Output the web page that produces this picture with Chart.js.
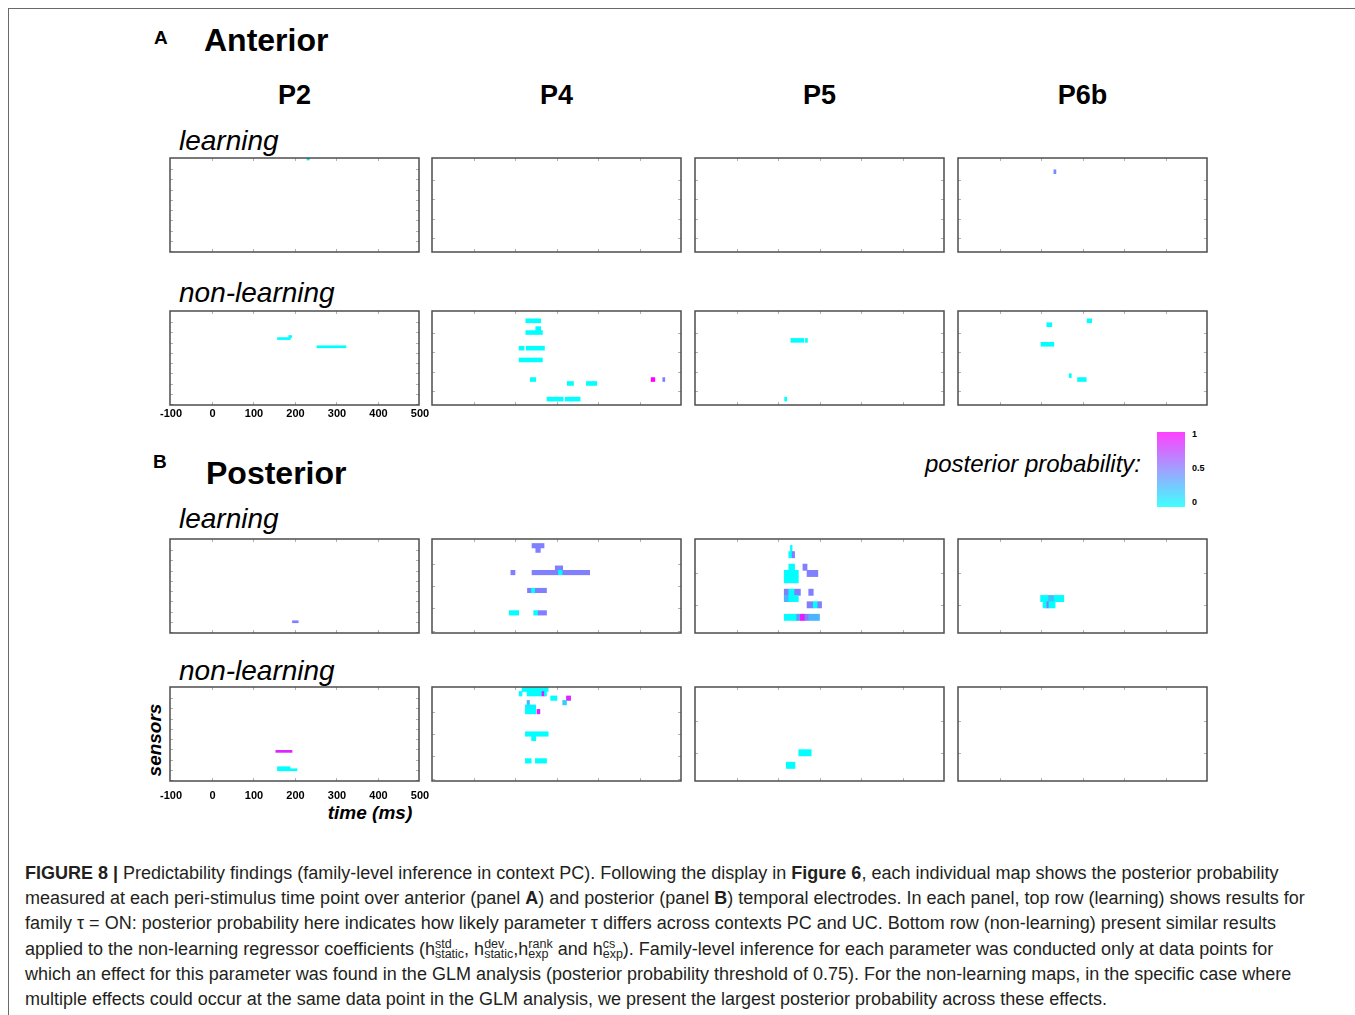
<!DOCTYPE html>
<html><head><meta charset="utf-8">
<script src="https://cdn.jsdelivr.net/npm/chart.js@4.4.1/dist/chart.umd.min.js"></script>
<style>
html,body{margin:0;padding:0;background:#fff;}
body{width:1355px;height:1015px;position:relative;overflow:hidden;font-family:"Liberation Sans",Arial,Helvetica,sans-serif;color:#000;}
.t{position:absolute;white-space:nowrap;line-height:1;}
.b{font-weight:bold;}
.i{font-style:italic;}
canvas{position:absolute;}
#cap{position:absolute;left:25px;top:861px;font-size:18px;color:#231f20;}
#cap div{height:25.2px;line-height:25.2px;white-space:nowrap;}
.hs{display:inline-block;font-size:12.5px;line-height:10.5px;vertical-align:-3.5px;}
.hs span{display:block;}
</style></head><body>
<div style="position:absolute;left:8px;top:8px;width:1400px;height:1100px;border-left:1px solid #6a6a6a;border-top:1px solid #6a6a6a;"></div>

<div class="t b" style="left:154px;top:28px;font-size:19px;">A</div>
<div class="t b" style="left:204px;top:24px;font-size:32px;">Anterior</div>
<div id="heads"></div>
<div class="t i" style="left:179px;top:127px;font-size:28px;">learning</div>
<div class="t i" style="left:179px;top:279px;font-size:28px;">non-learning</div>
<div class="t b" style="left:153px;top:452px;font-size:19px;">B</div>
<div class="t b" style="left:206px;top:457px;font-size:32px;">Posterior</div>
<div class="t i" style="left:179px;top:505px;font-size:28px;">learning</div>
<div class="t i" style="left:179px;top:657px;font-size:28px;">non-learning</div>
<div class="t i" style="right:214px;top:452px;font-size:24px;">posterior probability:</div>
<div style="position:absolute;left:1157px;top:432px;width:28px;height:75px;background:linear-gradient(to top,rgb(0,255,255),rgb(128,128,255),rgb(255,0,255));opacity:0.75;"></div>
<div class="t b" style="left:1192px;top:430px;font-size:9px;">1</div>
<div class="t b" style="left:1192px;top:464px;font-size:9px;">0.5</div>
<div class="t b" style="left:1192px;top:498px;font-size:9px;">0</div>
<div class="t b i" style="left:320px;top:803px;width:100px;text-align:center;font-size:19px;">time (ms)</div>
<div class="t b i" style="left:105px;top:730px;width:100px;height:20px;line-height:20px;text-align:center;font-size:19px;transform:rotate(-90deg);">sensors</div>

<div id="cap">
<div><b>FIGURE 8 |</b> Predictability findings (family-level inference in context PC). Following the display in <b>Figure 6</b>, each individual map shows the posterior probability</div>
<div>measured at each peri-stimulus time point over anterior (panel <b>A</b>) and posterior (panel <b>B</b>) temporal electrodes. In each panel, top row (learning) shows results for</div>
<div>family τ = ON: posterior probability here indicates how likely parameter τ differs across contexts PC and UC. Bottom row (non-learning) present similar results</div>
<div>applied to the non-learning regressor coefficients (h<span class="hs"><span>std</span><span>static</span></span>, h<span class="hs"><span>dev</span><span>static</span></span>,h<span class="hs"><span>rank</span><span>exp</span></span> and h<span class="hs"><span>cs</span><span>exp</span></span>). Family-level inference for each parameter was conducted only at data points for</div>
<div>which an effect for this parameter was found in the GLM analysis (posterior probability threshold of 0.75). For the non-learning maps, in the specific case where</div>
<div>multiple effects could occur at the same data point in the GLM analysis, we present the largest posterior probability across these effects.</div>
</div>

<script>
// ---- data ----
const panelNames = ['P2', 'P4', 'P5', 'P6b'];
const timeTicks = [-100, 0, 100, 200, 300, 400, 500];
const sensorsAnterior = [46, 24, 24, 24];
const sensorsPosterior = [46, 21, 15, 15];
// cells: [time start (ms), time end (ms), sensor row, posterior probability]
const antLearnP2 = [[230, 236, 0, 0.1]];
const antLearnP4 = [];
const antLearnP5 = [];
const antLearnP6b = [[131, 136, 3, 0.45]];
const antNonP2 = [[159, 190, 13, 0], [186, 193, 12, 0], [254, 324, 17, 0]];
const antNonP4 = [[126, 162, 2, 0], [150, 162, 4, 0], [126, 166, 5, 0], [110, 122, 9, 0], [127, 171, 9, 0],
  [110, 166, 12, 0], [137, 150, 17, 0], [226, 241, 18, 0], [272, 297, 18, 0], [177, 216, 22, 0], [221, 257, 22, 0],
  [428, 437, 17, 1], [456, 461, 17, 0.5]];
const antNonP5 = [[131, 162, 7, 0], [166, 171, 7, 0], [116, 121, 22, 0]];
const antNonP6b = [[114, 126, 3, 0], [211, 222, 2, 0], [100, 131, 8, 0], [168, 173, 16, 0], [188, 209, 17, 0]];
const postLearnP2 = [[195, 209, 40, 0.5]];
const postLearnP4 = [[141, 170, 1, 0.5], [150, 161, 2, 0.5], [197, 215, 6, 0.5], [90, 100, 7, 0.5], [141, 205, 7, 0.5],
  [205, 215, 7, 0], [215, 280, 7, 0.5], [130, 140, 11, 0.5], [140, 149, 11, 0], [149, 176, 11, 0.5],
  [86, 109, 16, 0], [145, 156, 16, 0], [156, 176, 16, 0.5]];
const postLearnP5 = [[130, 134, 1, 0], [126, 134, 2, 0], [134, 140, 2, 0.5], [126, 140, 4, 0], [160, 170, 4, 0.5],
  [115, 149, 5, 0], [170, 196, 5, 0.5], [115, 149, 6, 0], [115, 126, 8, 0.5], [126, 140, 8, 0], [140, 154, 8, 0.5],
  [174, 185, 8, 0.5], [115, 126, 9, 0.3], [126, 149, 9, 0], [170, 185, 10, 0.5], [185, 196, 10, 0], [196, 205, 10, 0.5],
  [115, 145, 12, 0], [145, 154, 12, 0.4], [154, 165, 12, 0.9], [165, 174, 12, 0.5], [174, 200, 12, 0.3]];
const postLearnP6b = [[99, 118, 9, 0], [118, 132, 9, 0.25], [132, 155, 9, 0], [105, 114, 10, 0], [114, 119, 10, 0.5], [119, 134, 10, 0]];
const postNonP2 = [[155, 194, 31, 0.85], [159, 189, 39, 0], [159, 189, 40, 0], [189, 206, 40, 0]];
const postNonP4 = [[117, 180, 0, 0], [110, 117, 1, 0], [129, 165, 1, 0], [165, 171, 1, 0.9], [171, 176, 1, 0],
  [186, 201, 2, 0], [224, 234, 2, 0.85], [129, 135, 3, 0.3], [215, 224, 3, 0.2], [125, 150, 4, 0.05],
  [125, 150, 5, 0], [153, 160, 5, 0.85], [125, 180, 10, 0], [140, 150, 11, 0], [125, 139, 16, 0], [149, 176, 16, 0]];
const postNonP5 = [[150, 180, 10, 0], [120, 141, 12, 0]];
const postNonP6b = [];

// ---- layout (style only) ----
const colLeft = [170, 432, 695, 958];
const rowTop = [158, 311, 539, 687];
const PW = 249, PH = 94, PADX = 20, PADY = 2, AXH = 28;

Chart.defaults.font.family = '"Liberation Sans", Arial, sans-serif';

function cool(p) {
  return 'rgb(' + Math.round(255 * p) + ',' + Math.round(255 * (1 - p)) + ',255)';
}

const framePlugin = {
  id: 'frame',
  afterDraw(chart) {
    const ctx = chart.ctx, a = chart.chartArea;
    const xs = chart.scales.x, ys = chart.scales.y;
    ctx.save();
    ctx.strokeStyle = '#b0b0b0';
    ctx.lineWidth = 1;
    ctx.beginPath();
    timeTicks.slice(1, -1).forEach(t => {
      const x = Math.round(xs.getPixelForValue(t)) + 0.5;
      ctx.moveTo(x, a.bottom); ctx.lineTo(x, a.bottom - 3);
      ctx.moveTo(x, a.top); ctx.lineTo(x, a.top + 3);
    });
    const n = chart.data.labels.length;
    for (let k = 5; k < n; k += 5) {
      const y = Math.round(ys.getPixelForValue(k)) + 0.5;
      ctx.moveTo(a.left, y); ctx.lineTo(a.left + 3, y);
      ctx.moveTo(a.right, y); ctx.lineTo(a.right - 3, y);
    }
    ctx.stroke();
    ctx.strokeStyle = '#4d4d4d';
    ctx.lineWidth = 1.5;
    ctx.strokeRect(a.left, a.top, a.right - a.left, a.bottom - a.top);
    ctx.restore();
  }
};

function makePanel(col, row, cells, nSensors, showTicks, tickPad) {
  const cv = document.createElement('canvas');
  const w = PW + 2 * PADX, h = PH + 2 * PADY + (showTicks ? AXH : 0);
  cv.width = w; cv.height = h;
  cv.style.left = (colLeft[col] - PADX) + 'px';
  cv.style.top = (rowTop[row] - PADY) + 'px';
  cv.style.width = w + 'px'; cv.style.height = h + 'px';
  document.body.appendChild(cv);
  const labels = Array.from({length: nSensors}, (_, i) => String(i));
  const xScale = {
    type: 'linear', min: timeTicks[0], max: timeTicks[timeTicks.length - 1],
    display: showTicks,
    ticks: {stepSize: 100, autoSkip: false, maxRotation: 0, padding: tickPad, labelOffset: 1, color: '#000',
            font: {size: 11, weight: 'bold'}, callback: v => String(v)},
    grid: {display: false, drawTicks: false},
    border: {display: false}
  };
  if (showTicks) xScale.afterFit = s => { s.height = AXH; };
  new Chart(cv, {
    type: 'bar',
    data: {
      labels: labels,
      datasets: [{
        data: cells.map(c => ({x: [c[0], c[1]], y: String(c[2])})),
        backgroundColor: cells.map(c => cool(c[3])),
        borderWidth: 0,
        barThickness: PH / nSensors
      }]
    },
    options: {
      indexAxis: 'y',
      responsive: false,
      animation: false,
      devicePixelRatio: 1,
      layout: {padding: {left: PADX, right: PADX, top: PADY, bottom: PADY}},
      plugins: {legend: {display: false}, tooltip: {enabled: false}},
      scales: {
        x: xScale,
        y: {type: 'category', display: false}
      }
    },
    plugins: [framePlugin]
  });
}

const heads = document.getElementById('heads');
panelNames.forEach((n, i) => {
  const d = document.createElement('div');
  d.className = 't b';
  d.style.cssText = 'left:' + (colLeft[i] + PW / 2 - 100) + 'px;top:82px;width:200px;text-align:center;font-size:27px;';
  d.textContent = n;
  heads.appendChild(d);
});

const antLearn = [antLearnP2, antLearnP4, antLearnP5, antLearnP6b];
const antNon = [antNonP2, antNonP4, antNonP5, antNonP6b];
const postLearn = [postLearnP2, postLearnP4, postLearnP5, postLearnP6b];
const postNon = [postNonP2, postNonP4, postNonP5, postNonP6b];
for (let c = 0; c < 4; c++) {
  makePanel(c, 0, antLearn[c], sensorsAnterior[c], false, 2);
  makePanel(c, 1, antNon[c], sensorsAnterior[c], c === 0, 2);
  makePanel(c, 2, postLearn[c], sensorsPosterior[c], false, 2);
  makePanel(c, 3, postNon[c], sensorsPosterior[c], c === 0, 8);
}
</script>
</body></html>
